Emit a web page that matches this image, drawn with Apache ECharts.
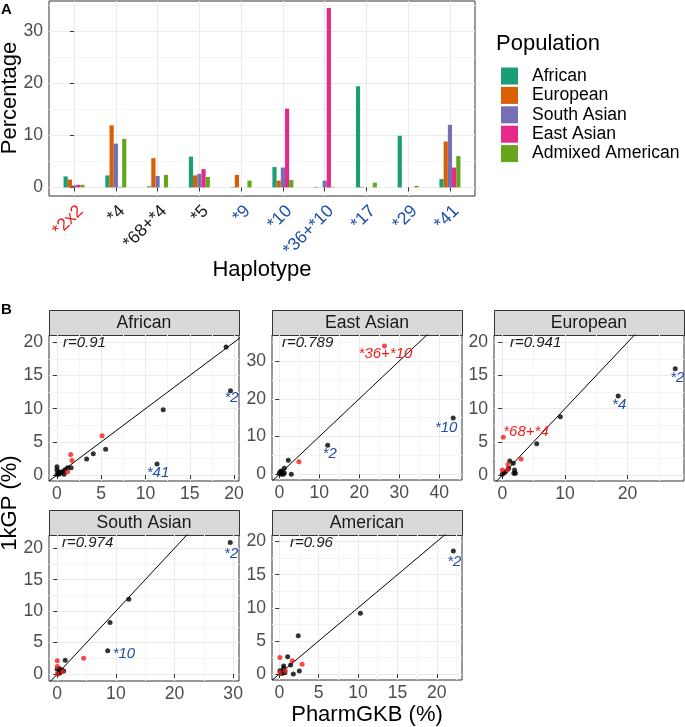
<!DOCTYPE html>
<html lang="en">
<head>
<meta charset="UTF-8">
<title>CYP2D6 haplotype frequencies</title>
<script src="https://cdn.jsdelivr.net/npm/echarts@6/dist/echarts.min.js"></script>
<style>
    * {
        margin: 0;
        padding: 0;
    }

    html, body {
        width: 100%;
        height: 100%;
        overflow: hidden;
        background: #fff;
    }

    .chart {
        width: 685px;
        height: 727px;
    }
</style>
</head>
<body>
<div class="chart"></div>
<script>
    // ---- panel A: haplotype frequencies (%) per population ----
    const haplotypes = ['*2x2', '*4', '*68+*4', '*5', '*9', '*10', '*36+*10', '*17', '*29', '*41'];
    // dup = duplication, none = no function, dec = decreased function
    const haplotypeKind = ['dup', 'none', 'none', 'none', 'dec', 'dec', 'dec', 'dec', 'dec', 'dec'];
    const populations = ['African', 'European', 'South Asian', 'East Asian', 'Admixed American'];
    const african = [2.1, 2.3, 0.2, 5.9, 0.1, 3.9, 0.1, 19.4, 9.9, 1.6];
    const european = [1.5, 11.9, 5.6, 2.3, 2.4, 1.3, 0, 0.1, 0, 8.8];
    const southAsian = [0.4, 8.4, 2.2, 2.6, 0, 3.8, 1.3, 0, 0, 12.0];
    const eastAsian = [0.5, 0.1, 0, 3.5, 0, 15.1, 34.4, 0, 0, 3.8];
    const admixedAmerican = [0.5, 9.3, 2.4, 2.0, 1.3, 1.4, 0.1, 0.9, 0.3, 6.0];
    const percentTicks = [0, 10, 20, 30];

    // ---- panel B: PharmGKB (x) vs 1kGP (y), [x, y, kind, label] ----
    // kind: sv = structural variant (red), snv = other (black)
    const facets = ['African', 'East Asian', 'European', 'South Asian', 'American'];
    const rValues = ['0.91', '0.789', '0.941', '0.974', '0.96'];
    const africanPts = [
        [19.1, 19.3, 'snv'], [19.6, 12.7, 'snv', '*2'], [12.0, 9.85, 'snv'], [11.3, 1.66, 'snv', '*41'],
        [5.5, 3.9, 'snv'], [4.1, 3.2, 'snv'], [3.35, 2.4, 'snv'], [1.6, 1.1, 'snv'], [1.2, 1.1, 'snv'],
        [0, 1.25, 'snv'], [0, 0.75, 'snv'], [0.2, 0.5, 'snv'], [0.4, 0.35, 'snv'], [0.6, 0.5, 'snv'],
        [0.8, 0.1, 'snv'], [0.2, 0.1, 'snv'], [0, 0.1, 'snv'], [0.3, 0.25, 'snv'], [0.9, 0.8, 'snv'],
        [5.1, 5.9, 'sv'], [1.55, 3.1, 'sv'], [1.7, 2.2, 'sv'], [1.2, 0.5, 'sv']
    ];
    const eastAsianPts = [
        [43.5, 14.9, 'snv', '*10'], [12.1, 7.7, 'snv', '*2'], [2.25, 3.7, 'snv'], [3.0, 0, 'snv'],
        [1.25, 1.6, 'snv'], [0.25, 0.7, 'snv'], [0.75, 0.5, 'snv'], [0.5, 0, 'snv'], [1.0, 0, 'snv'],
        [0, 0.3, 'snv'], [1.25, 0.35, 'snv'], [0.5, 0.9, 'snv'],
        [26.3, 34.0, 'sv', '*36+*10'], [4.9, 3.35, 'sv']
    ];
    const europeanPts = [
        [27.6, 16.0, 'snv', '*2'], [18.5, 11.9, 'snv', '*4'], [9.26, 8.8, 'snv'], [5.5, 4.7, 'snv'],
        [1.2, 2.1, 'snv'], [1.75, 1.76, 'snv'], [1.96, 0.75, 'snv'], [1.85, 0.25, 'snv'], [2.1, 0.25, 'snv'],
        [0.3, 0.35, 'snv'], [0.5, 0.5, 'snv'], [0, 0.1, 'snv'], [1.0, 1.0, 'snv'],
        [0.16, 5.7, 'sv', '*68+*4'], [3.0, 2.4, 'sv'], [0.9, 1.6, 'sv'], [0, 0.75, 'sv'], [0.8, 0.75, 'sv']
    ];
    const southAsianPts = [
        [29.5, 20.9, 'snv', '*2'], [12.2, 11.9, 'snv'], [9.0, 8.2, 'snv'], [8.6, 3.7, 'snv', '*10'],
        [1.36, 2.2, 'snv'], [0, 0.75, 'snv'], [0.35, 0.9, 'snv'], [0.75, 0.65, 'snv'], [1.1, 0.5, 'snv'],
        [0.2, 0.1, 'snv'], [0.45, 0.2, 'snv'],
        [4.5, 2.5, 'sv'], [0, 2.1, 'sv'], [0, 1.2, 'sv'], [0.9, 0.4, 'sv'], [0, 0, 'sv']
    ];
    const americanPts = [
        [22.1, 18.6, 'snv', '*2'], [10.3, 9.2, 'snv'], [2.4, 5.8, 'snv'], [1.06, 2.6, 'snv'],
        [1.44, 1.36, 'snv'], [0.55, 1.2, 'snv'], [0.55, 0.85, 'snv'], [2.54, 0.45, 'snv'], [1.78, 0, 'snv'],
        [0.08, 0.5, 'snv'], [0.4, 0.35, 'snv'], [0.7, 0.2, 'snv'], [0.3, 0.1, 'snv'],
        [0.08, 2.5, 'sv'], [1.65, 2.0, 'sv'], [2.9, 1.46, 'sv'], [0.08, 0.25, 'sv'], [0.75, 0.5, 'sv']
    ];
    const facetPoints = [africanPts, eastAsianPts, europeanPts, southAsianPts, americanPts];
    const facetXTicks = [[0, 5, 10, 15, 20], [0, 10, 20, 30, 40], [0, 10, 20], [0, 10, 20, 30], [0, 5, 10, 15, 20]];
    const facetYTicks = [[0, 5, 10, 15, 20], [0, 10, 20, 30], [0, 5, 10, 15, 20], [0, 5, 10, 15, 20], [0, 5, 10, 15, 20]];

    // ---- styles / layout ----
    const FONT = '"Liberation Sans", Arial, Helvetica, sans-serif';
    const colors = ['#1B9E77', '#D95F02', '#7570B3', '#E7298A', '#66A61E'];
    const RED = '#F21D1D';
    const BLUE = '#1F4FA8';
    const kindColor = {dup: RED, none: '#1A1A1A', dec: BLUE};
    // [left, top, width, height] of each facet panel
    const facetBoxes = [[49, 335, 190, 146], [272, 335, 190, 145], [494, 335, 190, 146], [49, 535, 190, 146], [272, 535, 190, 145]];
    // [xmin, xmax, ymin, ymax]
    const facetRanges = [[-0.9, 20.56, -0.9, 21.1], [-1.83, 45.7, -1.5, 36.9], [-1.32, 29.0, -0.9, 21.1], [-1.41, 31.0, -1.1, 22.1], [-0.93, 23.2, -0.9, 21.0]];
    const rNudge = [14, 10, 16, 13, 18];
    const labelNudge = {
        'African|*2': ['center', 1, 7], 'African|*41': ['center', 1, 9],
        'East Asian|*36+*10': ['center', 1, 8], 'East Asian|*10': ['center', -7, 10], 'East Asian|*2': ['center', 2, 9],
        'European|*2': ['center', 2, 9], 'European|*4': ['center', 1, 9], 'European|*68+*4': ['left', 0, -5],
        'South Asian|*2': ['center', 1, 11], 'South Asian|*10': ['left', 5, 3],
        'American|*2': ['center', 1, 11]
    };

    function valueAxis(gridIndex, min, max, ticks, extra) {
        let step = ticks[1] - ticks[0];
        return Object.assign({
            type: 'value',
            gridIndex: gridIndex,
            min: min,
            max: max,
            minInterval: step,
            maxInterval: step,
            axisLine: {show: false},
            axisTick: {show: true, length: 4, lineStyle: {color: '#333'}, customValues: ticks},
            axisLabel: {customValues: ticks, color: '#4D4D4D', fontSize: 17.6, fontFamily: FONT, margin: 6},
            splitLine: {show: true, lineStyle: {color: '#EBEBEB', width: 1}},
            minorTick: {show: false, splitNumber: 2},
            minorSplitLine: {show: true, lineStyle: {color: '#F5F5F5', width: 1}}
        }, extra || {});
    }

    let grids = [{left: 49, top: 1, width: 426, height: 195}];
    let xAxes = [valueAxis(0, -0.6, 9.6, haplotypes.map((h, i) => i), {
        axisLabel: {
            customValues: haplotypes.map((h, i) => i),
            rotate: 45,
            margin: 6,
            align: 'right',
            verticalAlign: 'top',
            fontSize: 17.6,
            fontFamily: FONT,
            formatter: v => haplotypes[v],
            color: v => kindColor[haplotypeKind[Math.round(v)]] || '#1A1A1A'
        },
        minorSplitLine: {show: false}
    })];
    let yAxes = [valueAxis(0, -1.65, 35.75, percentTicks)];

    let barValues = [african, european, southAsian, eastAsian, admixedAmerican];
    let series = populations.map((name, k) => ({
        name: name,
        type: 'bar',
        xAxisIndex: 0,
        yAxisIndex: 0,
        barWidth: 4.2,
        barGap: '0%',
        itemStyle: {color: colors[k]},
        data: haplotypes.map((h, i) => [i, barValues[k][i]])
    }));

    let graphics = [
        {type: 'text', x: 1, y: 2, style: {text: 'A', font: 'bold 15px ' + FONT, fill: '#000'}},
        {type: 'text', x: 1, y: 302, style: {text: 'B', font: 'bold 15px ' + FONT, fill: '#000'}},
        {type: 'text', x: 10, y: 98, rotation: Math.PI / 2,
            style: {text: 'Percentage', font: '22px ' + FONT, fill: '#000', align: 'center', verticalAlign: 'middle', textAlign: 'center', textVerticalAlign: 'middle'}},
        {type: 'text', x: 262, y: 270,
            style: {text: 'Haplotype', font: '22px ' + FONT, fill: '#000', align: 'center', verticalAlign: 'middle', textAlign: 'center', textVerticalAlign: 'middle'}},
        {type: 'text', x: 496, y: 44,
            style: {text: 'Population', font: '22px ' + FONT, fill: '#000', verticalAlign: 'middle', textVerticalAlign: 'middle'}},
        {type: 'text', x: 10, y: 503, rotation: Math.PI / 2,
            style: {text: '1kGP (%)', font: '22px ' + FONT, fill: '#000', align: 'center', verticalAlign: 'middle', textAlign: 'center', textVerticalAlign: 'middle'}},
        {type: 'text', x: 367, y: 715,
            style: {text: 'PharmGKB (%)', font: '22px ' + FONT, fill: '#000', align: 'center', verticalAlign: 'middle', textAlign: 'center', textVerticalAlign: 'middle'}}
    ];

    facets.forEach((name, i) => {
        let box = facetBoxes[i];
        let r = facetRanges[i];
        let g = i + 1;
        grids.push({left: box[0], top: box[1], width: box[2], height: box[3]});
        xAxes.push(valueAxis(g, r[0], r[1], facetXTicks[i], {axisLabel: {customValues: facetXTicks[i], color: '#4D4D4D', fontSize: 17.6, fontFamily: FONT, margin: 4}}));
        yAxes.push(valueAxis(g, r[2], r[3], facetYTicks[i]));

        let lo = Math.min(r[0], r[2]);
        let hi = Math.max(r[1], r[3]);
        series.push({
            type: 'line',
            xAxisIndex: g,
            yAxisIndex: g,
            data: [[lo, lo], [hi, hi]],
            symbol: 'none',
            clip: true,
            silent: true,
            lineStyle: {color: '#000', width: 1},
            z: 2
        });

        series.push({
            type: 'scatter',
            xAxisIndex: g,
            yAxisIndex: g,
            symbolSize: 5,
            z: 3,
            data: facetPoints[i].map(p => {
                let item = {value: [p[0], p[1]], itemStyle: {color: p[2] === 'sv' ? RED : '#000'}};
                if (p[3]) {
                    let nudge = labelNudge[name + '|' + p[3]] || ['center', 0, 8];
                    item.label = {
                        show: true,
                        formatter: p[3],
                        position: 'inside',
                        align: nudge[0],
                        verticalAlign: 'middle',
                        offset: [nudge[1], nudge[2]],
                        color: p[2] === 'sv' ? RED : BLUE,
                        textBorderWidth: 0,
                        textBorderColor: 'transparent',
                        opacity: 1,
                        fontStyle: 'italic',
                        fontSize: 15,
                        fontFamily: FONT
                    };
                }
                return item;
            })
        });

        // facet strip and r annotation
        graphics.push({
            type: 'rect',
            shape: {x: box[0] + 0.5, y: box[1] - 24.5, width: box[2], height: 25},
            style: {fill: '#D9D9D9', stroke: '#333', lineWidth: 1}
        });
        graphics.push({
            type: 'text', x: box[0] + box[2] / 2, y: box[1] - 12,
            style: {text: name, font: '17.6px ' + FONT, fill: '#1A1A1A', align: 'center', verticalAlign: 'middle', textAlign: 'center', textVerticalAlign: 'middle'}
        });
        graphics.push({
            type: 'text', x: box[0] + rNudge[i], y: box[1] + 8, z: 10,
            style: {text: 'r=' + rValues[i], font: 'italic 15px ' + FONT, fill: '#1A1A1A', verticalAlign: 'middle', textVerticalAlign: 'middle'}
        });
    });

    grids.forEach(gr => {
        gr.show = true;
        gr.backgroundColor = '#fff';
        gr.borderColor = '#333';
        gr.borderWidth = 1;
        gr.containLabel = false;
    });

    let chart = echarts.init(document.querySelector('.chart'), null, {renderer: 'canvas'});
    chart.setOption({
        animation: false,
        backgroundColor: '#fff',
        textStyle: {fontFamily: FONT},
        legend: {
            data: populations,
            orient: 'vertical',
            left: 496,
            top: 62,
            icon: 'rect',
            itemWidth: 17,
            itemHeight: 17,
            itemGap: 1.4,
            selectedMode: false,
            textStyle: {fontSize: 17.6, fontFamily: FONT, color: '#000', lineHeight: 17, padding: [0, 0, 0, 9]}
        },
        grid: grids,
        xAxis: xAxes,
        yAxis: yAxes,
        series: series,
        graphic: {elements: graphics}
    });
</script>
</body>
</html>
